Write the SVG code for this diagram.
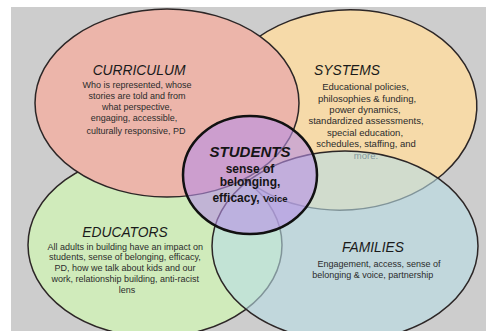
<svg xmlns="http://www.w3.org/2000/svg" width="486" height="331" viewBox="0 0 486 331">
<style>
.t{font-family:"Liberation Sans",Arial,sans-serif;text-anchor:middle}
.title{font-size:13.8px;font-style:italic;fill:#1a1a1a}
.body{font-size:9px;fill:#2b2b2b}
.sbody{font-size:9.5px;fill:#2b2b2b}
.ell{stroke:#2c2626;stroke-width:1.5}
.st{font-weight:bold;fill:#151515}
</style>
<rect x="0" y="0" width="486" height="331" fill="#ffffff"/>
<rect x="11" y="7" width="475" height="324" fill="#cdcdcd"/>
<g id="educators">
<ellipse class="ell" cx="155" cy="245" rx="127" ry="92" fill="#d0ebbb"/>
<text class="t title" x="125" y="236.5">EDUCATORS</text>
<text class="t body" x="125.3" y="249.5">All adults in building have an impact on</text>
<text class="t body" x="125" y="260">students, sense of belonging, efficacy,</text>
<text class="t body" x="125" y="271">PD, how we talk about kids and our</text>
<text class="t body" x="125.3" y="282">work, relationship building, anti-racist</text>
<text class="t body" x="127" y="293">lens</text>
</g>
<g id="systems">
<ellipse class="ell" cx="345" cy="110" rx="132" ry="100" fill="#f6daa9" transform="rotate(-4 345 110)"/>
<text class="t title" x="347" y="75">SYSTEMS</text>
<text class="t sbody" x="365.5" y="89.5">Educational policies,</text>
<text class="t sbody" x="367" y="101.5">philosophies &amp; funding,</text>
<text class="t sbody" x="365" y="112.5">power dynamics,</text>
<text class="t sbody" x="366" y="124">standardized assessments,</text>
<text class="t sbody" x="365" y="135.5">special education,</text>
<text class="t sbody" x="366" y="147">schedules, staffing, and</text>
<text class="t sbody" x="366" y="158.5" fill="#7f9090">more.</text>
</g>
<g id="curriculum">
<ellipse class="ell" cx="167" cy="103" rx="132" ry="94" fill="#ecb5aa"/>
<text class="t title" x="139" y="75">CURRICULUM</text>
<text class="t body" x="137" y="87.5">Who is represented, whose</text>
<text class="t body" x="137" y="99">stories are told and from</text>
<text class="t body" x="137" y="110">what perspective,</text>
<text class="t body" x="134" y="121">engaging, accessible,</text>
<text class="t body" x="136" y="133.5">culturally responsive, PD</text>
</g>
<g id="families">
<ellipse class="ell" cx="345" cy="246" rx="133" ry="95" fill="#b9dde6" fill-opacity="0.6"/>
<text class="t title" x="373" y="251.5">FAMILIES</text>
<text class="t body" x="379" y="266.5">Engagement, access, sense of</text>
<text class="t body" x="372.7" y="277.5">belonging &amp; voice, partnership</text>
</g>
<g id="students">
<ellipse cx="250" cy="175" rx="67" ry="59" fill="#b890e6" fill-opacity="0.6" stroke="#111" stroke-width="2.5"/>
<text class="t st" x="250" y="157" font-size="15" font-style="italic">STUDENTS</text>
<text class="t st" x="250" y="172.5" font-size="12">sense of</text>
<text class="t st" x="250" y="186" font-size="12">belonging,</text>
<text class="t st" x="250" y="201.5" font-size="12">efficacy, <tspan font-size="9.5">Voice</tspan></text>
</g>
<g id="connectors"></g>
</svg>
